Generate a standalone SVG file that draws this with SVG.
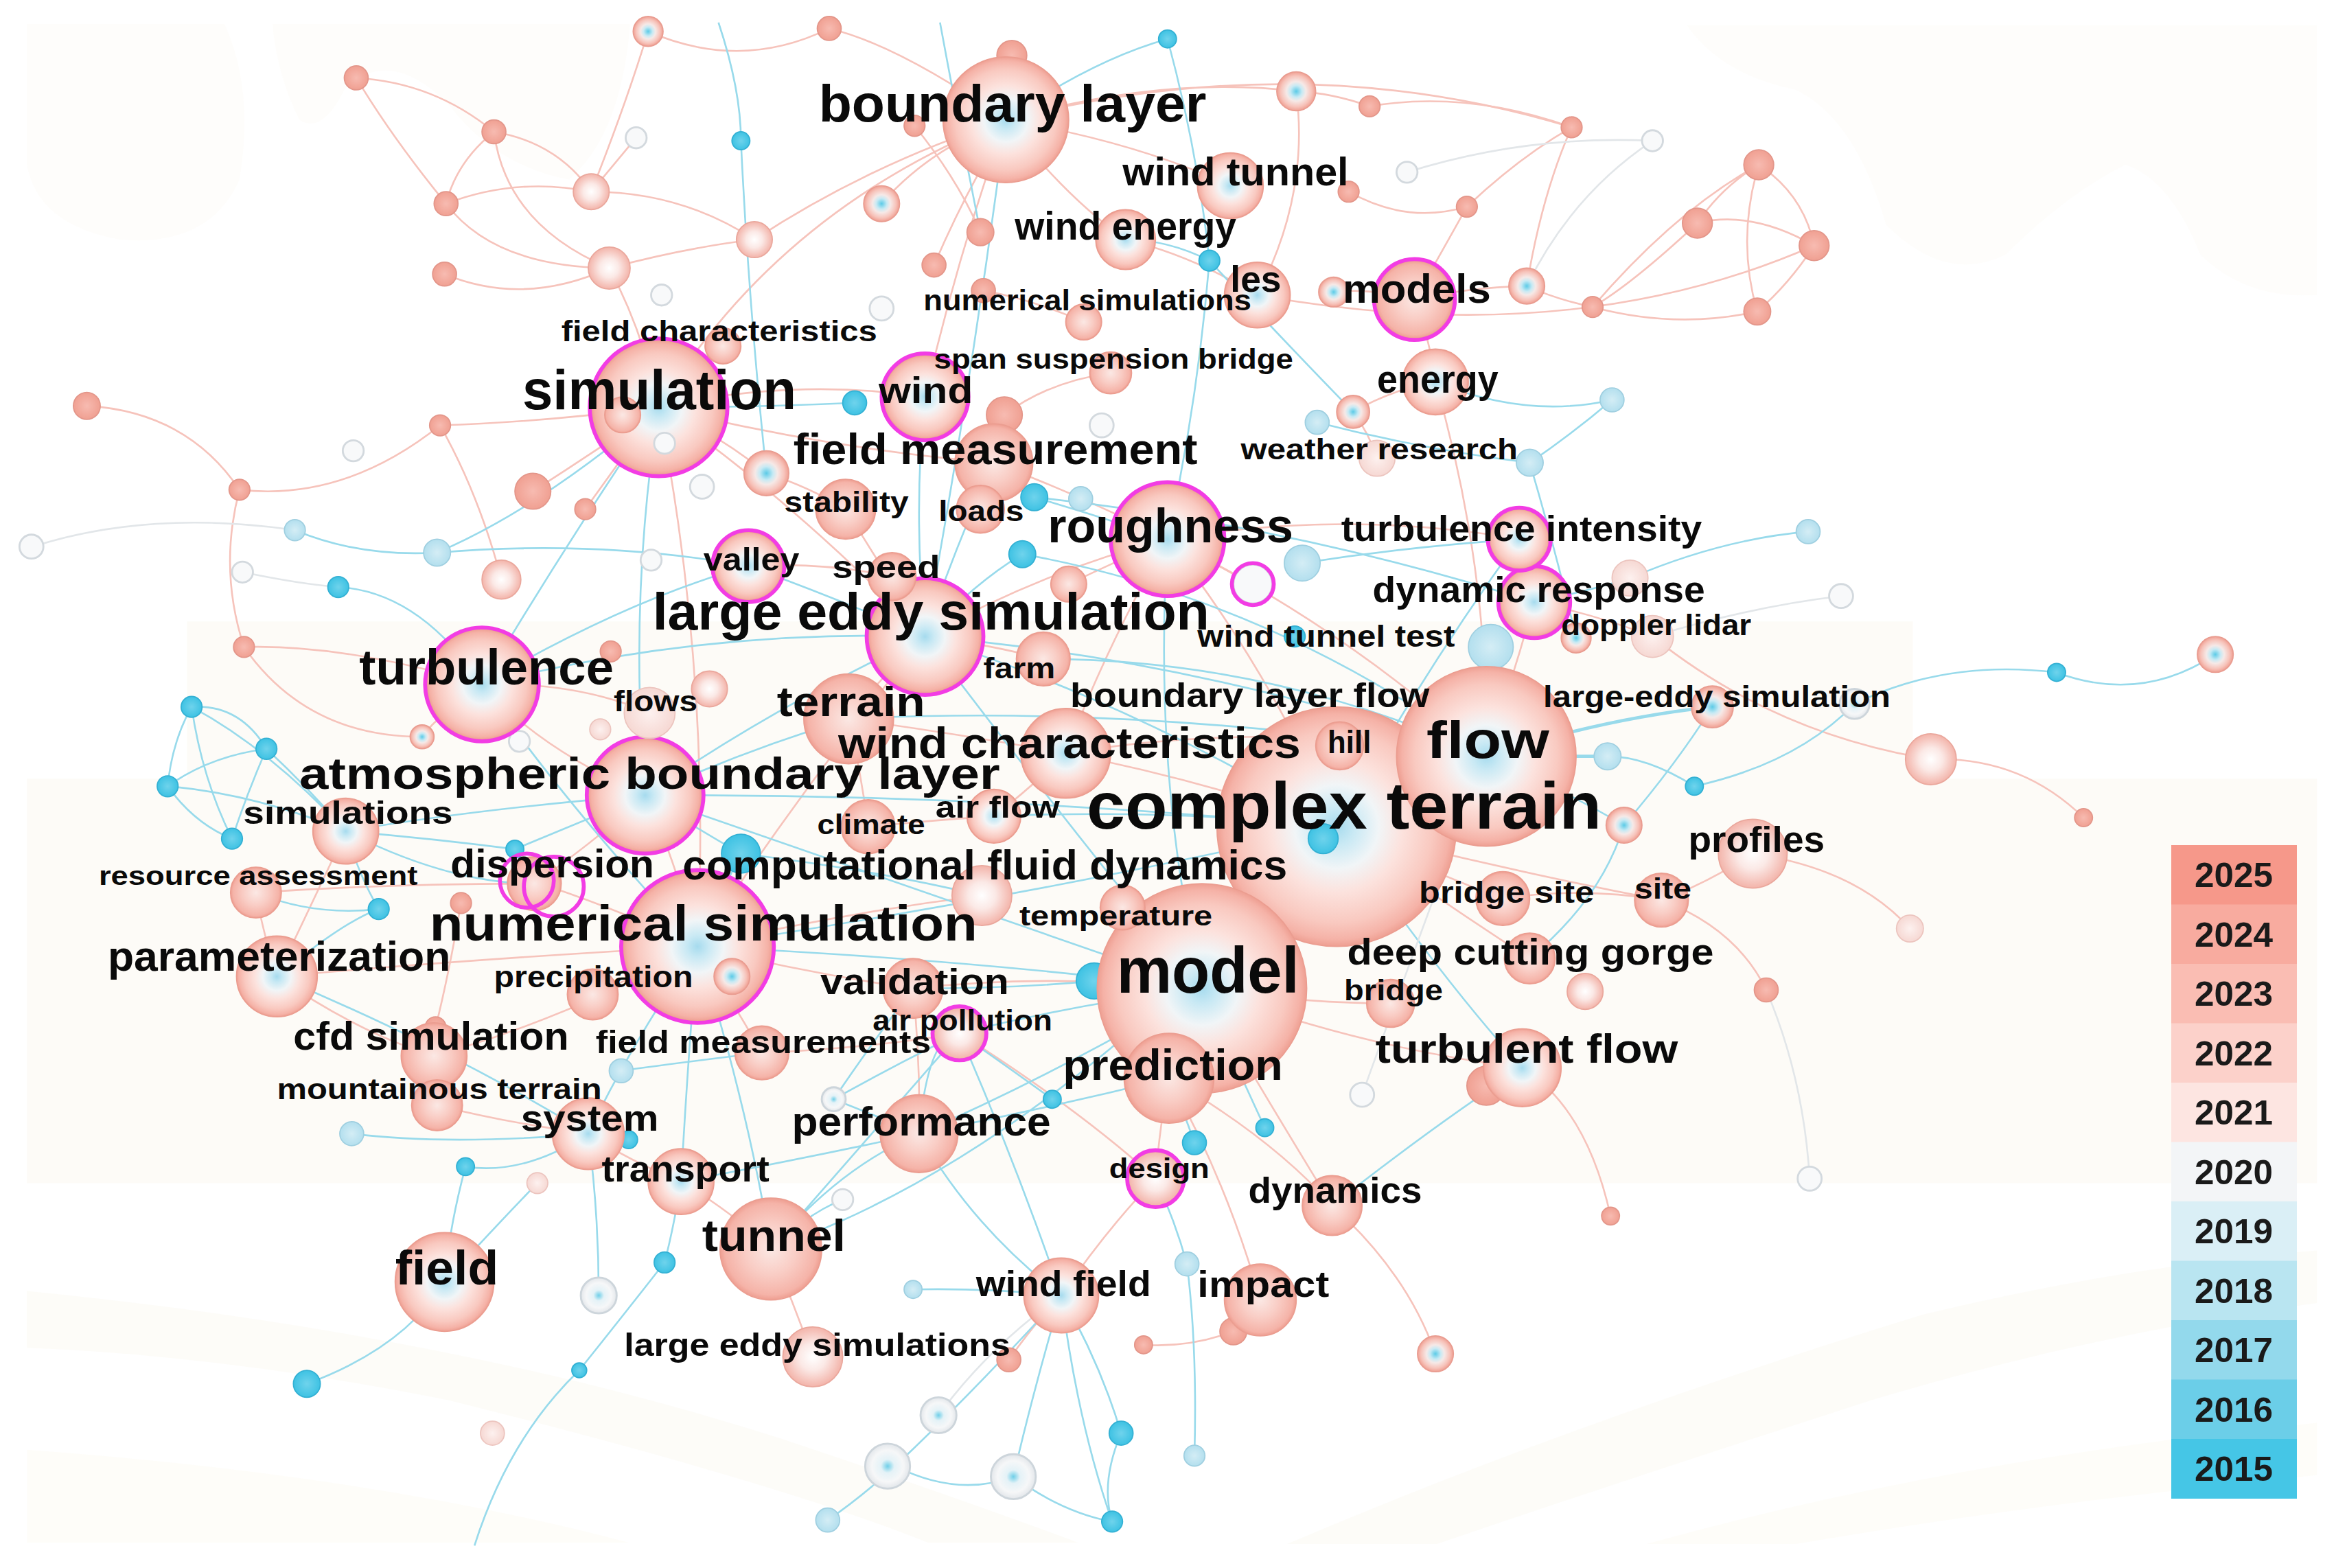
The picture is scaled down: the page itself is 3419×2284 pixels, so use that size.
<svg xmlns="http://www.w3.org/2000/svg" width="3419" height="2284" viewBox="0 0 3419 2284">
<defs>
<style>
.p{fill:none;stroke:#f6c3bb;stroke-width:1.2}
.b{fill:none;stroke:#98daeb;stroke-width:1.2}
.g{fill:none;stroke:#e2e6e9;stroke-width:1.2}
.bt{fill:none;stroke:#98daeb;stroke-width:2.2}
.pt{fill:none;stroke:#f6c3bb;stroke-width:2}
.big{fill:url(#gBig);stroke:#eb9d90;stroke-width:.8}
.pk{fill:url(#gPk);stroke:#eb9d90;stroke-width:.8}
.sal{fill:url(#gSal);stroke:#e3968a;stroke-width:.8}
.pb{fill:url(#gPB);stroke:#e99c90;stroke-width:.8}
.pw{fill:url(#gPW);stroke:#eaa79c;stroke-width:.8}
.pale{fill:url(#gPale);stroke:#ecc4be;stroke-width:.8}
.wh{fill:#f8f9fa;stroke:#d3d9de;stroke-width:1.3}
.wb{fill:url(#gWB);stroke:#cdd5db;stroke-width:1.3}
.lb{fill:url(#gLB);stroke:#9fcfe0;stroke-width:.8}
.bl{fill:url(#gBl);stroke:#33b0d3;stroke-width:.8}
.mg{fill:none;stroke:#f23ce4;stroke-width:2.6}
.bgs{fill:#fcf9f1}
.l{font-family:"Liberation Sans",Arial,Helvetica,sans-serif;font-weight:700;fill:#0a0a0a}
.lg{font-family:"Liberation Sans",Arial,Helvetica,sans-serif;font-weight:700;fill:#1a1a1a;font-size:50px;text-anchor:middle}
</style>
<radialGradient id="gBig"><stop offset="0" stop-color="#a6dbee"/><stop offset=".15" stop-color="#c9e9f4"/><stop offset=".35" stop-color="#f1f5f7"/><stop offset=".55" stop-color="#fce2dd"/><stop offset=".8" stop-color="#f9c9c0"/><stop offset=".94" stop-color="#f5b2a7"/><stop offset="1" stop-color="#ee9f92"/></radialGradient>
<radialGradient id="gPk"><stop offset="0" stop-color="#fbe8e4"/><stop offset=".5" stop-color="#f9cdc5"/><stop offset=".9" stop-color="#f5b3a8"/><stop offset="1" stop-color="#ee9e91"/></radialGradient>
<radialGradient id="gSal"><stop offset="0" stop-color="#f7bbb1"/><stop offset="1" stop-color="#f0a092"/></radialGradient>
<radialGradient id="gPB"><stop offset="0" stop-color="#5ccbe7"/><stop offset=".3" stop-color="#c8eaf4"/><stop offset=".5" stop-color="#f6e9e7"/><stop offset=".8" stop-color="#f7c3ba"/><stop offset="1" stop-color="#ef9f92"/></radialGradient>
<radialGradient id="gPW"><stop offset="0" stop-color="#ffffff"/><stop offset=".45" stop-color="#fbe9e6"/><stop offset="1" stop-color="#f3b4aa"/></radialGradient>
<radialGradient id="gPale"><stop offset="0" stop-color="#fdf1ef"/><stop offset="1" stop-color="#f6d8d3"/></radialGradient>
<radialGradient id="gLB"><stop offset="0" stop-color="#d4edf5"/><stop offset="1" stop-color="#b3dfee"/></radialGradient>
<radialGradient id="gBl"><stop offset="0" stop-color="#6fd3ec"/><stop offset="1" stop-color="#3ec2e3"/></radialGradient>
<radialGradient id="gWB"><stop offset="0" stop-color="#6fcfe8"/><stop offset=".3" stop-color="#e4f2f7"/><stop offset=".7" stop-color="#f6f7f8"/><stop offset="1" stop-color="#e2e6ea"/></radialGradient>
</defs>
<rect width="3419" height="2284" fill="#ffffff"/>
<g transform="scale(2.18048 2.18147)">
<g id="background">
<path class="bgs" d="M18 16H150Q170 60 160 120Q140 165 80 160Q25 150 18 110Z" opacity=".3"/>
<path class="bgs" d="M182 16H421Q415 90 380 120Q330 110 300 70Q260 30 230 60Q215 90 200 80Q185 50 182 16Z" opacity=".3"/>
<path class="bgs" d="M1127 17H1548V197Q1500 200 1470 170Q1450 120 1420 110Q1380 130 1340 170Q1300 190 1260 150Q1240 80 1200 60Q1150 50 1127 17Z" opacity=".3"/>
<rect class="bgs" x="125" y="415" width="1153" height="105" opacity=".6"/>
<rect class="bgs" x="18" y="520" width="1530" height="270" opacity=".6"/>
<path class="bgs" d="M18 862Q300 890 520 960Q640 1000 720 1030H620Q520 990 300 935Q150 905 18 900Z" opacity=".5"/>
<path class="bgs" d="M18 968Q250 985 420 1030H18Z" opacity=".4"/>
<path class="bgs" d="M860 1031Q1050 950 1284 878Q1420 845 1548 835V870Q1400 890 1250 935Q1080 990 960 1031Z" opacity=".5"/>
<path class="bgs" d="M1100 1031Q1300 975 1548 950V985Q1350 1005 1200 1031Z" opacity=".4"/>
</g>
<g id="connectors">
<path class="p" d="M238 52Q290 55 330 88M238 52Q262 92 298 136M330 88Q305 108 298 136M330 88Q372 95 395 128M298 136Q345 118 395 128M330 88Q338 150 407 179M298 136Q330 178 407 179M297 183Q350 205 407 179M395 128Q410 110 425 92M407 179Q430 222 440 272M407 179Q460 165 504 160M395 128Q455 128 504 160M433 21Q418 70 395 128M433 21Q495 48 554 19M58 271Q125 275 160 327M160 327Q230 335 294 284M294 284Q360 282 440 272M294 284Q320 330 335 387M160 327Q146 380 163 432M163 432Q205 492 282 492M356 328Q400 300 440 272M391 340Q420 300 440 272"/>
<path class="p" d="M440 272Q525 330 618 425M440 272Q475 450 466 632M440 272Q530 252 618 265M440 272Q555 300 664 309M440 272Q520 140 672 80M440 272Q480 290 512 316M440 272Q465 240 483 231M672 80Q600 30 554 19M672 80Q640 170 618 265M672 80Q620 100 589 136M672 80Q580 110 504 160M672 80Q760 95 822 124M672 80Q780 50 866 61M672 80Q710 130 752 160M672 80Q870 30 1050 85M611 84Q640 120 655 155M657 110Q640 140 624 177M657 194Q690 200 724 215"/>
<path class="p" d="M866 61Q890 62 915 71M866 61Q875 130 840 197M915 71Q980 60 1050 85M901 128Q940 150 980 138M980 138Q1015 105 1050 85M980 138Q965 165 945 200M1050 85Q1030 130 1020 191M1175 110Q1150 125 1134 149M1175 110Q1205 130 1212 164M1134 149Q1170 140 1212 164M1175 110Q1160 160 1174 208M1134 149Q1090 190 1064 205M1212 164Q1195 190 1174 208M1064 205Q1120 220 1174 208M1064 205Q1120 140 1175 110M1020 191Q1040 200 1064 205M1020 191Q980 192 945 200M840 197Q1050 235 1212 164M945 200Q955 225 959 255M891 195Q915 192 945 200M752 160Q795 170 840 197M959 255Q930 260 904 275M959 255Q995 380 993 505M904 275Q915 290 920 306M742 249Q700 255 671 277"/>
<path class="p" d="M1025 402Q1065 410 1104 425M1104 425Q1185 490 1290 507M1290 507Q1350 505 1392 546M1171 570Q1240 580 1276 620M1110 601Q1160 620 1180 661M1110 601Q1055 592 1004 600M1110 601Q1000 580 893 552M1017 713Q1060 740 1076 812M1015 360Q900 340 780 360M1025 402Q1010 455 993 505M1171 570Q1140 590 1110 601"/>
<path class="p" d="M618 425Q700 380 780 360M618 425Q540 520 466 632M618 425Q590 450 567 480M618 425Q660 430 697 440M618 425Q590 380 565 340M780 360Q850 450 893 552M780 360Q900 420 993 505M780 360Q720 330 664 309M780 360Q810 375 837 390M780 360Q740 430 712 503M780 360Q745 375 714 390M893 552Q840 600 803 660M893 552Q940 520 993 505M893 552Q800 520 712 503M893 552Q950 580 1004 600M893 552Q960 600 1022 640M893 552Q830 640 781 720M893 552Q895 525 895 498"/>
<path class="p" d="M803 660Q790 690 781 720M803 660Q700 650 610 660M803 660Q775 630 750 606M803 660Q870 670 929 670M803 660Q910 700 1017 713M803 660Q850 740 890 805M466 632Q450 570 431 531M466 632Q320 640 185 652M466 632Q420 610 367 592M466 632Q430 650 396 664M466 632Q540 650 610 660M466 632Q490 670 509 703M466 632Q380 680 290 705M466 632Q560 610 656 598M431 531Q360 500 322 457M431 531Q400 560 357 590M322 457Q290 480 282 492M322 457Q385 455 434 476M322 457Q230 430 163 432M185 652Q210 600 231 555M185 652Q175 620 171 596M185 652Q240 690 290 705"/>
<path class="p" d="M393 757Q420 775 455 789M393 757Q340 750 292 738M455 789Q490 810 515 834M515 834Q530 870 543 906M614 757Q615 710 610 660M641 690Q580 700 509 703M641 690Q720 740 772 787M709 865Q740 820 772 787M709 865Q690 885 674 908M842 868Q830 880 824 889M824 889Q795 900 764 898M842 868Q820 790 781 720M890 805Q850 760 781 720M890 805Q940 850 959 904M772 787Q775 750 781 720M567 480Q640 490 712 503M567 480Q575 515 580 552M712 503Q850 480 993 505M712 503Q690 525 664 545M565 340Q540 325 512 316M655 340Q660 320 664 309M596 385Q550 375 500 378M580 552Q620 548 664 545M171 596Q260 590 357 590M308 603Q300 650 291 686M596 385Q610 405 618 425"/>
<path class="b" d="M628 15Q640 80 655 155M480 15Q495 60 495 94M495 94Q500 200 512 316M672 80Q730 40 780 26M780 26Q800 100 808 174M672 80Q650 250 618 425M808 174Q780 160 752 160M808 174Q800 270 780 360M808 174Q860 230 904 275M959 255Q1020 280 1077 267M1077 267Q1050 290 1022 309M880 282Q950 300 1022 309M1022 309Q1040 370 1053 426M1208 355Q1150 360 1089 386M1089 386Q1060 395 1025 402"/>
<path class="b" d="M1132 525Q1200 510 1239 470M1239 470Q1300 440 1374 449M1374 449Q1430 470 1480 437M1074 505Q1100 505 1132 525M1085 551Q1070 600 1022 640M1085 551Q1040 525 993 505M1015 360Q950 450 893 552M870 376Q940 365 1015 360M996 432Q995 470 993 505M1042 520Q1020 515 993 505M1144 472Q1120 510 1085 551"/>
<path class="bt" d="M993 505Q1070 480 1144 472M993 505Q1035 505 1074 505"/>
<path class="b" d="M440 272Q420 400 431 531M440 272Q380 360 322 457M440 272Q505 272 571 269M440 272Q360 340 292 369M197 354Q240 372 292 369M292 369Q400 360 500 378M226 392Q280 395 322 457M618 425Q760 470 893 552M618 425Q720 560 803 660M618 425Q520 470 431 531M618 425Q470 420 322 457M618 425Q560 400 500 378M618 425Q640 360 664 309M618 425Q610 340 618 265M618 425Q650 390 683 370M618 425Q800 440 993 505M780 360Q770 520 803 660M780 360Q735 345 691 332"/>
<path class="b" d="M893 552Q680 600 466 632M893 552Q660 530 431 531M893 552Q960 650 1017 713M893 552Q915 570 933 578M803 660Q640 640 466 632M803 660Q720 670 641 690M803 660Q700 720 614 757M803 660Q765 655 731 655M803 660Q825 710 845 753M803 660Q600 590 431 531M466 632Q380 540 322 457M466 632Q420 700 393 757M466 632Q500 740 515 834M466 632Q480 600 495 570M431 531Q320 540 231 555M431 531Q460 550 495 570M431 531Q500 500 567 480M431 531Q385 550 344 567M322 457Q420 400 500 378"/>
<path class="b" d="M231 555Q180 500 128 472M231 555Q170 530 112 525M231 555Q205 525 178 500M128 472Q160 470 178 500M128 472Q115 495 112 525M128 472Q135 520 155 560M112 525Q130 550 155 560M178 500Q140 505 112 525M178 500Q165 530 155 560M231 555Q240 585 253 607M171 596Q210 612 253 607M344 567Q290 560 231 555M185 652Q230 615 253 607M185 652Q300 700 393 757M393 757Q300 765 235 757M393 757Q350 785 311 779M311 779Q300 820 297 856M359 790Q330 820 297 856M297 856Q270 900 205 924"/>
<path class="b" d="M455 789Q450 820 444 843M444 843Q415 880 387 915M387 915Q340 960 317 1032M455 789Q530 775 614 757M455 789Q460 700 466 632M393 757Q400 810 400 865M515 834Q560 780 614 757M515 834Q580 760 641 690M515 834Q700 770 893 552M515 834Q540 810 563 801M614 757Q620 690 641 690M614 757Q650 820 709 865M614 757Q585 745 557 734M614 757Q700 740 781 720M641 690Q680 780 709 865M641 690Q670 710 703 734M641 690Q600 710 557 734"/>
<path class="b" d="M709 865Q735 910 749 957M709 865Q720 950 743 1016M709 865Q690 930 677 986M709 865Q650 930 598 979M709 865Q660 860 610 861M749 957Q735 990 743 1016M598 979Q640 1000 677 986M677 986Q710 1010 743 1016M598 979Q575 1000 553 1015M772 787Q785 815 793 844M798 763Q790 740 781 720M781 720Q770 700 731 655M1017 713Q960 750 890 805M793 844Q800 900 798 972"/>
<path class="b" d="M683 370Q850 400 993 505M691 332Q860 350 1025 402M697 440Q850 440 993 505M567 480Q760 470 993 505M495 570Q580 580 656 598M731 655Q680 660 610 660M415 715Q450 710 509 703M557 734Q580 700 610 660M664 545Q780 540 893 552M231 555Q300 590 357 590"/>
<path class="g" d="M22 365Q100 340 197 354M940 115Q1020 90 1104 94M1104 94Q1050 130 1020 191M1230 398Q1170 405 1104 425M910 731Q950 620 993 505M1180 661Q1205 720 1209 787M162 382Q200 390 226 392M627 945Q660 900 709 865"/>
</g>
<g id="minor-nodes">
<g id="m1"><circle class="pb" cx="433" cy="21" r="10"/></g>
<g id="m2"><circle class="sal" cx="238" cy="52" r="8"/></g>
<g id="m3"><circle class="sal" cx="330" cy="88" r="8"/></g>
<g id="m4"><circle class="wh" cx="425" cy="92" r="7"/></g>
<g id="m5"><circle class="sal" cx="298" cy="136" r="8"/></g>
<g id="m6"><circle class="pw" cx="395" cy="128" r="12"/></g>
<g id="m7"><circle class="sal" cx="297" cy="183" r="8"/></g>
<g id="m8"><circle class="pw" cx="407" cy="179" r="14"/></g>
<g id="m9"><circle class="wh" cx="442" cy="197" r="7"/></g>
<g id="m10"><circle class="pw" cx="504" cy="160" r="12"/></g>
<g id="m11"><circle class="bl" cx="495" cy="94" r="6"/></g>
<g id="m12"><circle class="sal" cx="554" cy="19" r="8"/></g>
<g id="m13"><circle class="sal" cx="676" cy="37" r="10"/></g>
<g id="m14"><circle class="bl" cx="780" cy="26" r="6"/></g>
<g id="m15"><circle class="pb" cx="866" cy="61" r="13"/></g>
<g id="m16"><circle class="sal" cx="915" cy="71" r="7"/></g>
<g id="m17"><circle class="wh" cx="940" cy="115" r="7"/></g>
<g id="m18"><circle class="sal" cx="901" cy="128" r="7"/></g>
<g id="m19"><circle class="sal" cx="980" cy="138" r="7"/></g>
<g id="m20"><circle class="sal" cx="1050" cy="85" r="7"/></g>
<g id="m21"><circle class="wh" cx="1104" cy="94" r="7"/></g>
<g id="m22"><circle class="sal" cx="1175" cy="110" r="10"/></g>
<g id="m23"><circle class="sal" cx="1134" cy="149" r="10"/></g>
<g id="m24"><circle class="sal" cx="1212" cy="164" r="10"/></g>
<g id="m25"><circle class="pb" cx="1020" cy="191" r="12"/></g>
<g id="m26"><circle class="sal" cx="1064" cy="205" r="7"/></g>
<g id="m27"><circle class="sal" cx="1174" cy="208" r="9"/></g>
<g id="m28"><circle class="pb" cx="589" cy="136" r="12"/></g>
<g id="m29"><circle class="sal" cx="655" cy="155" r="9"/></g>
<g id="m30"><circle class="sal" cx="611" cy="84" r="7"/></g>
<g id="m31"><circle class="sal" cx="657" cy="110" r="8"/></g>
<g id="m32"><circle class="sal" cx="624" cy="177" r="8"/></g>
<g id="m33"><circle class="sal" cx="657" cy="194" r="8"/></g>
<g id="m34"><circle class="wh" cx="589" cy="206" r="8"/></g>
<g id="m35"><circle class="bl" cx="808" cy="174" r="7"/></g>
<g id="m36"><circle class="pb" cx="891" cy="195" r="10"/></g>
<g id="m37"><circle class="bl" cx="571" cy="269" r="8"/></g>
<g id="m38"><circle class="sal" cx="671" cy="277" r="12"/></g>
<g id="m39"><circle class="wh" cx="736" cy="284" r="8"/></g>
<g id="m40"><circle class="pb" cx="904" cy="275" r="11"/></g>
<g id="m41"><circle class="lb" cx="880" cy="282" r="8"/></g>
<g id="m42"><circle class="lb" cx="1077" cy="267" r="8"/></g>
<g id="m43"><circle class="lb" cx="1022" cy="309" r="9"/></g>
<g id="m44"><circle class="bl" cx="691" cy="332" r="9"/></g>
<g id="m45"><circle class="lb" cx="722" cy="333" r="8"/></g>
<g id="m46"><circle class="pb" cx="512" cy="316" r="15"/></g>
<g id="m47"><circle class="wh" cx="469" cy="325" r="8"/></g>
<g id="m48"><circle class="sal" cx="58" cy="271" r="9"/></g>
<g id="m49"><circle class="sal" cx="160" cy="327" r="7"/></g>
<g id="m50"><circle class="wh" cx="236" cy="301" r="7"/></g>
<g id="m51"><circle class="sal" cx="294" cy="284" r="7"/></g>
<g id="m52"><circle class="sal" cx="356" cy="328" r="12"/></g>
<g id="m53"><circle class="sal" cx="391" cy="340" r="7"/></g>
<g id="m54"><circle class="pw" cx="335" cy="387" r="13"/></g>
<g id="m55"><circle class="lb" cx="292" cy="369" r="9"/></g>
<g id="m56"><circle class="lb" cx="197" cy="354" r="7"/></g>
<g id="m57"><circle class="bl" cx="226" cy="392" r="7"/></g>
<g id="m58"><circle class="wh" cx="162" cy="382" r="7"/></g>
<g id="m59"><circle class="wh" cx="21" cy="365" r="8"/></g>
<g id="m60"><circle class="sal" cx="163" cy="432" r="7"/></g>
<g id="m61"><circle class="pb" cx="282" cy="492" r="8"/></g>
<g id="m62"><circle class="wh" cx="347" cy="495" r="7"/></g>
<g id="m63"><circle class="sal" cx="408" cy="435" r="7"/></g>
<g id="m64"><circle class="pale" cx="401" cy="487" r="7"/></g>
<g id="m65"><circle class="wh" cx="435" cy="374" r="7"/></g>
<g id="m66"><circle class="pw" cx="474" cy="460" r="12"/></g>
<g id="m67"><circle class="bl" cx="128" cy="472" r="7"/></g>
<g id="m68"><circle class="bl" cx="178" cy="500" r="7"/></g>
<g id="m69"><circle class="bl" cx="112" cy="525" r="7"/></g>
<g id="m70"><circle class="bl" cx="155" cy="560" r="7"/></g>
<g id="m71"><circle class="bl" cx="253" cy="607" r="7"/></g>
<g id="m72"><circle class="bl" cx="344" cy="567" r="6"/></g>
<g id="m73"><circle class="bl" cx="495" cy="570" r="13"/></g>
<g id="m74"><circle class="sal" cx="308" cy="603" r="7"/></g>
<g id="m75"><circle class="sal" cx="291" cy="686" r="7"/></g>
<g id="m76"><circle class="lb" cx="415" cy="715" r="8"/></g>
<g id="m77"><circle class="wb" cx="557" cy="734" r="8"/></g>
<g id="m78"><circle class="lb" cx="235" cy="757" r="8"/></g>
<g id="m79"><circle class="bl" cx="420" cy="761" r="6"/></g>
<g id="m80"><circle class="bl" cx="311" cy="779" r="6"/></g>
<g id="m81"><circle class="pale" cx="359" cy="790" r="7"/></g>
<g id="m82"><circle class="wh" cx="563" cy="801" r="7"/></g>
<g id="m83"><circle class="bl" cx="444" cy="843" r="7"/></g>
<g id="m84"><circle class="wb" cx="400" cy="865" r="12"/></g>
<g id="m85"><circle class="bl" cx="205" cy="924" r="9"/></g>
<g id="m86"><circle class="bl" cx="387" cy="915" r="5"/></g>
<g id="m87"><circle class="pale" cx="329" cy="957" r="8"/></g>
<g id="m88"><circle class="wb" cx="627" cy="945" r="12"/></g>
<g id="m89"><circle class="wb" cx="593" cy="979" r="15"/></g>
<g id="m90"><circle class="wb" cx="677" cy="986" r="15"/></g>
<g id="m91"><circle class="bl" cx="749" cy="957" r="8"/></g>
<g id="m92"><circle class="bl" cx="743" cy="1016" r="7"/></g>
<g id="m93"><circle class="lb" cx="798" cy="972" r="7"/></g>
<g id="m94"><circle class="lb" cx="553" cy="1015" r="8"/></g>
<g id="m95"><circle class="lb" cx="610" cy="861" r="6"/></g>
<g id="m96"><circle class="sal" cx="674" cy="908" r="8"/></g>
<g id="m97"><circle class="sal" cx="764" cy="898" r="6"/></g>
<g id="m98"><circle class="sal" cx="824" cy="889" r="9"/></g>
<g id="m99"><circle class="lb" cx="793" cy="844" r="8"/></g>
<g id="m100"><circle class="bl" cx="798" cy="763" r="8"/></g>
<g id="m101"><circle class="bl" cx="845" cy="753" r="6"/></g>
<g id="m102"><circle class="bl" cx="703" cy="734" r="6"/></g>
<g id="m103"><circle class="wh" cx="910" cy="731" r="8"/></g>
<g id="m104"><circle class="sal" cx="993" cy="725" r="13"/></g>
<g id="m105"><circle class="pb" cx="959" cy="904" r="12"/></g>
<g id="m106"><circle class="sal" cx="1076" cy="812" r="6"/></g>
<g id="m107"><circle class="wh" cx="1209" cy="787" r="8"/></g>
<g id="m108"><circle class="sal" cx="1180" cy="661" r="8"/></g>
<g id="m109"><circle class="pale" cx="1276" cy="620" r="9"/></g>
<g id="m110"><circle class="pb" cx="1085" cy="551" r="12"/></g>
<g id="m111"><circle class="bl" cx="1132" cy="525" r="6"/></g>
<g id="m112"><circle class="lb" cx="1074" cy="505" r="9"/></g>
<g id="m113"><circle class="pw" cx="1290" cy="507" r="17"/></g>
<g id="m114"><circle class="sal" cx="1392" cy="546" r="6"/></g>
<g id="m115"><circle class="bl" cx="1374" cy="449" r="6"/></g>
<g id="m116"><circle class="pb" cx="1480" cy="437" r="12"/></g>
<g id="m117"><circle class="wb" cx="1239" cy="470" r="10"/></g>
<g id="m118"><circle class="pb" cx="1053" cy="426" r="10"/></g>
<g id="m119"><circle class="pale" cx="1089" cy="386" r="12"/></g>
<g id="m120"><circle class="lb" cx="1208" cy="355" r="8"/></g>
<g id="m121"><circle class="wh" cx="1230" cy="398" r="8"/></g>
<g id="m122"><circle class="lb" cx="996" cy="432" r="15"/></g>
<g id="m123"><circle class="lb" cx="870" cy="376" r="12"/></g>
<g id="m124"><circle class="bl" cx="683" cy="370" r="9"/></g>
<g id="m125"><circle class="pk" cx="714" cy="390" r="12"/></g>
<g id="m126"><circle class="bl" cx="731" cy="655" r="12"/></g>
<g id="m127"><circle class="wh" cx="837" cy="390" r="13"/><circle class="mg" cx="837" cy="390" r="14"/></g>
<g id="m128"><circle class="pw" cx="1059" cy="662" r="12"/></g>
<g id="m129"><circle class="wh" cx="933" cy="578" r="8"/></g>
<g id="m130"><circle class="bl" cx="1042" cy="520" r="6"/></g>
<g id="m131"><circle class="bl" cx="865" cy="425" r="7"/></g>
</g>
<g id="nodes">
<g id="n-complex-terrain"><circle class="big" cx="893" cy="552" r="80"/><circle class="bl" cx="884" cy="560" r="10"/></g>
<g id="n-model"><circle class="big" cx="803" cy="660" r="70"/></g>
<g id="n-flow"><circle class="big" cx="993" cy="505" r="60"/></g>
<g id="n-numerical-simulation"><circle class="big" cx="466" cy="632" r="50"/><circle class="pb" cx="489" cy="652" r="12"/><circle class="mg" cx="466" cy="632" r="51"/></g>
<g id="n-simulation"><circle class="big" cx="440" cy="272" r="45"/><circle class="pk" cx="416" cy="277" r="12"/><circle class="wh" cx="444" cy="296" r="7"/><circle class="mg" cx="440" cy="272" r="46"/></g>
<g id="n-boundary-layer"><circle class="big" cx="672" cy="80" r="42"/></g>
<g id="n-large-eddy-simulation"><circle class="big" cx="618" cy="425" r="38"/><circle class="mg" cx="618" cy="425" r="39"/></g>
<g id="n-atmospheric-boundary-layer"><circle class="big" cx="431" cy="531" r="38"/><circle class="mg" cx="431" cy="531" r="39"/></g>
<g id="n-roughness"><circle class="big" cx="780" cy="360" r="37"/><circle class="mg" cx="780" cy="360" r="38" stroke-width="3.4"/></g>
<g id="n-turbulence"><circle class="big" cx="322" cy="457" r="37"/><circle class="mg" cx="322" cy="457" r="38"/></g>
<g id="n-tunnel"><circle class="pk" cx="515" cy="834" r="34"/></g>
<g id="n-field"><circle class="big" cx="297" cy="856" r="33"/></g>
<g id="n-wind-characteristics"><circle class="big" cx="712" cy="503" r="30"/></g>
<g id="n-terrain"><circle class="pk" cx="567" cy="480" r="30"/></g>
<g id="n-prediction"><circle class="pk" cx="781" cy="720" r="30"/></g>
<g id="n-parameterization"><circle class="big" cx="185" cy="652" r="27"/></g>
<g id="n-wind"><circle class="big" cx="618" cy="265" r="28"/><circle class="mg" cx="618" cy="265" r="29"/></g>
<g id="n-field-measurement"><circle class="pk" cx="664" cy="309" r="26"/></g>
<g id="n-performance"><circle class="pk" cx="614" cy="757" r="26"/></g>
<g id="n-turbulent-flow"><circle class="big" cx="1017" cy="713" r="26"/></g>
<g id="n-models"><circle class="pk" cx="945" cy="200" r="26"/><circle class="mg" cx="945" cy="200" r="27"/></g>
<g id="n-impact"><circle class="pk" cx="842" cy="868" r="24"/></g>
<g id="n-system"><circle class="big" cx="393" cy="757" r="24"/></g>
<g id="n-wind-field"><circle class="big" cx="709" cy="865" r="25"/></g>
<g id="n-profiles"><circle class="pw" cx="1171" cy="570" r="23"/></g>
<g id="n-valley"><circle class="big" cx="500" cy="378" r="23"/><circle class="mg" cx="500" cy="378" r="24"/></g>
<g id="n-dynamic-response"><circle class="big" cx="1025" cy="402" r="23"/><circle class="mg" cx="1025" cy="402" r="24"/></g>
<g id="n-transport"><circle class="big" cx="455" cy="789" r="22"/></g>
<g id="n-turbulence-intensity"><circle class="big" cx="1015" cy="360" r="20"/><circle class="mg" cx="1015" cy="360" r="21"/></g>
<g id="n-wind-tunnel"><circle class="big" cx="822" cy="124" r="22"/></g>
<g id="n-les"><circle class="big" cx="840" cy="197" r="22"/></g>
<g id="n-energy"><circle class="big" cx="959" cy="255" r="22"/></g>
<g id="n-wind-energy"><circle class="big" cx="752" cy="160" r="20"/></g>
<g id="n-large-eddy-simulations"><circle class="pw" cx="543" cy="906" r="20"/></g>
<g id="n-simulations"><circle class="big" cx="231" cy="555" r="22"/></g>
<g id="n-stability"><circle class="pk" cx="565" cy="340" r="20"/></g>
<g id="n-validation"><circle class="pk" cx="610" cy="660" r="20"/></g>
<g id="n-computational-fluid-dynamics"><circle class="pw" cx="656" cy="598" r="20"/></g>
<g id="n-climate"><circle class="pk" cx="580" cy="552" r="18"/></g>
<g id="n-air-flow"><circle class="big" cx="664" cy="545" r="18"/></g>
<g id="n-bridge-site"><circle class="pk" cx="1004" cy="600" r="18"/></g>
<g id="n-site"><circle class="pk" cx="1110" cy="601" r="18"/></g>
<g id="n-design"><circle class="pw" cx="772" cy="787" r="18"/><circle class="mg" cx="772" cy="787" r="19"/></g>
<g id="n-dynamics"><circle class="pk" cx="890" cy="805" r="20"/></g>
<g id="n-air-pollution"><circle class="pw" cx="641" cy="690" r="17"/><circle class="mg" cx="641" cy="690" r="18"/></g>
<g id="n-deep-cutting-gorge"><circle class="pk" cx="1022" cy="640" r="17"/></g>
<g id="n-dispersion"><circle class="pk" cx="357" cy="590" r="18"/><circle class="mg" cx="352" cy="588" r="18"/><circle class="mg" cx="370" cy="592" r="20"/></g>
<g id="n-farm"><circle class="pk" cx="697" cy="440" r="18"/></g>
<g id="n-loads"><circle class="pk" cx="655" cy="340" r="16"/></g>
<g id="n-speed"><circle class="pk" cx="596" cy="385" r="16"/></g>
<g id="n-bridge"><circle class="pk" cx="929" cy="670" r="16"/></g>
<g id="n-hill"><circle class="pk" cx="895" cy="498" r="16"/></g>
<g id="n-temperature"><circle class="pk" cx="750" cy="606" r="15"/></g>
<g id="n-field-measurements"><circle class="pk" cx="509" cy="703" r="18"/></g>
<g id="n-cfd-simulation"><circle class="pk" cx="290" cy="705" r="22"/></g>
<g id="n-mountainous-terrain"><circle class="pk" cx="292" cy="738" r="17"/></g>
<g id="n-precipitation"><circle class="pk" cx="396" cy="664" r="17"/></g>
<g id="n-resource-assessment"><circle class="pk" cx="171" cy="596" r="17"/></g>
<g id="n-flows"><circle class="pale" cx="434" cy="476" r="17"/></g>
<g id="n-large-eddy-simulation-2"><circle class="pb" cx="1144" cy="472" r="14"/></g>
<g id="n-doppler-lidar"><circle class="pale" cx="1104" cy="425" r="14"/></g>
<g id="n-weather-research"><circle class="pale" cx="920" cy="306" r="12"/></g>
<g id="n-numerical-simulations"><circle class="pk" cx="724" cy="215" r="12"/></g>
<g id="n-span-suspension-bridge"><circle class="pk" cx="742" cy="249" r="14"/></g>
<g id="n-field-characteristics"><circle class="pk" cx="483" cy="231" r="12"/></g>
</g>
<g id="labels">
<text class="l" x="547" y="81" font-size="35" textLength="259" lengthAdjust="spacingAndGlyphs">boundary layer</text>
<text class="l" x="750" y="124" font-size="26" textLength="151" lengthAdjust="spacingAndGlyphs">wind tunnel</text>
<text class="l" x="678" y="160" font-size="26" textLength="148" lengthAdjust="spacingAndGlyphs">wind energy</text>
<text class="l" x="617" y="207" font-size="19.5" textLength="219" lengthAdjust="spacingAndGlyphs">numerical simulations</text>
<text class="l" x="822" y="195" font-size="25" textLength="34" lengthAdjust="spacingAndGlyphs">les</text>
<text class="l" x="897" y="202" font-size="27" textLength="99" lengthAdjust="spacingAndGlyphs">models</text>
<text class="l" x="375" y="228" font-size="19.5" textLength="211" lengthAdjust="spacingAndGlyphs">field characteristics</text>
<text class="l" x="349" y="273" font-size="37" textLength="183" lengthAdjust="spacingAndGlyphs">simulation</text>
<text class="l" x="587" y="269" font-size="25" textLength="63" lengthAdjust="spacingAndGlyphs">wind</text>
<text class="l" x="624" y="246" font-size="19" textLength="240" lengthAdjust="spacingAndGlyphs">span suspension bridge</text>
<text class="l" x="920" y="262" font-size="26" textLength="81" lengthAdjust="spacingAndGlyphs">energy</text>
<text class="l" x="530" y="310" font-size="29" textLength="270" lengthAdjust="spacingAndGlyphs">field measurement</text>
<text class="l" x="829" y="306.5" font-size="19.5" textLength="185" lengthAdjust="spacingAndGlyphs">weather research</text>
<text class="l" x="524" y="342" font-size="19.5" textLength="83" lengthAdjust="spacingAndGlyphs">stability</text>
<text class="l" x="627" y="348" font-size="19.5" textLength="57" lengthAdjust="spacingAndGlyphs">loads</text>
<text class="l" x="700" y="362" font-size="32" textLength="164" lengthAdjust="spacingAndGlyphs">roughness</text>
<text class="l" x="896" y="361" font-size="24" textLength="241" lengthAdjust="spacingAndGlyphs">turbulence intensity</text>
<text class="l" x="470" y="381" font-size="21.5" textLength="64" lengthAdjust="spacingAndGlyphs">valley</text>
<text class="l" x="556" y="386" font-size="21.5" textLength="72" lengthAdjust="spacingAndGlyphs">speed</text>
<text class="l" x="436" y="420.5" font-size="35" textLength="372" lengthAdjust="spacingAndGlyphs">large eddy simulation</text>
<text class="l" x="917" y="402" font-size="24" textLength="222" lengthAdjust="spacingAndGlyphs">dynamic response</text>
<text class="l" x="1043" y="424" font-size="19.5" textLength="127" lengthAdjust="spacingAndGlyphs">doppler lidar</text>
<text class="l" x="800" y="432" font-size="20.5" textLength="172" lengthAdjust="spacingAndGlyphs">wind tunnel test</text>
<text class="l" x="240" y="457" font-size="33" textLength="170" lengthAdjust="spacingAndGlyphs">turbulence</text>
<text class="l" x="657" y="453" font-size="19.5" textLength="48" lengthAdjust="spacingAndGlyphs">farm</text>
<text class="l" x="410" y="475" font-size="19.5" textLength="56" lengthAdjust="spacingAndGlyphs">flows</text>
<text class="l" x="519" y="478" font-size="28" textLength="99" lengthAdjust="spacingAndGlyphs">terrain</text>
<text class="l" x="715" y="472" font-size="23" textLength="240" lengthAdjust="spacingAndGlyphs">boundary layer flow</text>
<text class="l" x="953" y="506" font-size="35" textLength="82" lengthAdjust="spacingAndGlyphs">flow</text>
<text class="l" x="1031" y="472" font-size="20.5" textLength="232" lengthAdjust="spacingAndGlyphs">large-eddy simulation</text>
<text class="l" x="887" y="503" font-size="21.5" textLength="29" lengthAdjust="spacingAndGlyphs">hill</text>
<text class="l" x="560" y="506" font-size="28.5" textLength="309" lengthAdjust="spacingAndGlyphs">wind characteristics</text>
<text class="l" x="726" y="553.5" font-size="44" textLength="344" lengthAdjust="spacingAndGlyphs">complex terrain</text>
<text class="l" x="200" y="526.5" font-size="30" textLength="468" lengthAdjust="spacingAndGlyphs">atmospheric boundary layer</text>
<text class="l" x="162.5" y="550" font-size="21.5" textLength="140" lengthAdjust="spacingAndGlyphs">simulations</text>
<text class="l" x="546" y="557" font-size="18.5" textLength="72" lengthAdjust="spacingAndGlyphs">climate</text>
<text class="l" x="625" y="546" font-size="20.5" textLength="83" lengthAdjust="spacingAndGlyphs">air flow</text>
<text class="l" x="1128" y="569" font-size="24" textLength="91" lengthAdjust="spacingAndGlyphs">profiles</text>
<text class="l" x="66" y="590.7" font-size="18" textLength="213" lengthAdjust="spacingAndGlyphs">resource assessment</text>
<text class="l" x="301" y="586" font-size="26" textLength="136" lengthAdjust="spacingAndGlyphs">dispersion</text>
<text class="l" x="456" y="587" font-size="28" textLength="404" lengthAdjust="spacingAndGlyphs">computational fluid dynamics</text>
<text class="l" x="948" y="602.6" font-size="20.5" textLength="117" lengthAdjust="spacingAndGlyphs">bridge site</text>
<text class="l" x="1092" y="600" font-size="19.5" textLength="38" lengthAdjust="spacingAndGlyphs">site</text>
<text class="l" x="287" y="628" font-size="33" textLength="366" lengthAdjust="spacingAndGlyphs">numerical simulation</text>
<text class="l" x="681" y="618" font-size="18.5" textLength="129" lengthAdjust="spacingAndGlyphs">temperature</text>
<text class="l" x="72" y="648" font-size="28" textLength="229" lengthAdjust="spacingAndGlyphs">parameterization</text>
<text class="l" x="900" y="644" font-size="25" textLength="245" lengthAdjust="spacingAndGlyphs">deep cutting gorge</text>
<text class="l" x="746" y="663" font-size="43" textLength="122" lengthAdjust="spacingAndGlyphs">model</text>
<text class="l" x="330" y="659" font-size="20.5" textLength="133" lengthAdjust="spacingAndGlyphs">precipitation</text>
<text class="l" x="548" y="664" font-size="24" textLength="126" lengthAdjust="spacingAndGlyphs">validation</text>
<text class="l" x="898" y="668" font-size="19.5" textLength="66" lengthAdjust="spacingAndGlyphs">bridge</text>
<text class="l" x="196" y="701" font-size="26" textLength="184" lengthAdjust="spacingAndGlyphs">cfd simulation</text>
<text class="l" x="398" y="703" font-size="21.5" textLength="224" lengthAdjust="spacingAndGlyphs">field measurements</text>
<text class="l" x="583" y="688" font-size="19.5" textLength="120" lengthAdjust="spacingAndGlyphs">air pollution</text>
<text class="l" x="710" y="721" font-size="29" textLength="147" lengthAdjust="spacingAndGlyphs">prediction</text>
<text class="l" x="919" y="709.6" font-size="27" textLength="202" lengthAdjust="spacingAndGlyphs">turbulent flow</text>
<text class="l" x="185" y="734" font-size="19.5" textLength="217" lengthAdjust="spacingAndGlyphs">mountainous terrain</text>
<text class="l" x="348" y="755" font-size="25" textLength="92" lengthAdjust="spacingAndGlyphs">system</text>
<text class="l" x="529" y="758" font-size="27" textLength="173" lengthAdjust="spacingAndGlyphs">performance</text>
<text class="l" x="402" y="789" font-size="25" textLength="112" lengthAdjust="spacingAndGlyphs">transport</text>
<text class="l" x="741" y="786.5" font-size="18.5" textLength="67" lengthAdjust="spacingAndGlyphs">design</text>
<text class="l" x="834" y="803" font-size="24" textLength="116" lengthAdjust="spacingAndGlyphs">dynamics</text>
<text class="l" x="469" y="835" font-size="30" textLength="96" lengthAdjust="spacingAndGlyphs">tunnel</text>
<text class="l" x="264" y="857.6" font-size="32" textLength="69" lengthAdjust="spacingAndGlyphs">field</text>
<text class="l" x="652" y="865.6" font-size="24" textLength="117" lengthAdjust="spacingAndGlyphs">wind field</text>
<text class="l" x="800" y="866" font-size="25" textLength="88" lengthAdjust="spacingAndGlyphs">impact</text>
<text class="l" x="417" y="905.5" font-size="21.5" textLength="258" lengthAdjust="spacingAndGlyphs">large eddy simulations</text>
</g>
</g>
<g id="legend">
<rect x="3163" y="1231" width="183" height="87" fill="#f6988a"/>
<rect x="3163" y="1317.5" width="183" height="87" fill="#f8ab9f"/>
<rect x="3163" y="1404" width="183" height="87" fill="#fabdb3"/>
<rect x="3163" y="1490.5" width="183" height="87" fill="#fcd1ca"/>
<rect x="3163" y="1577" width="183" height="87" fill="#fde5e1"/>
<rect x="3163" y="1663.5" width="183" height="87" fill="#f3f5f7"/>
<rect x="3163" y="1750" width="183" height="87" fill="#daeff6"/>
<rect x="3163" y="1836.5" width="183" height="87" fill="#b9e5f1"/>
<rect x="3163" y="1923" width="183" height="87" fill="#93d9ec"/>
<rect x="3163" y="2009.5" width="183" height="87" fill="#6bcee8"/>
<rect x="3163" y="2096" width="183" height="87" fill="#45c6e6"/>
<text class="lg" x="3254" y="1292" textLength="114" lengthAdjust="spacingAndGlyphs">2025</text>
<text class="lg" x="3254" y="1378.5" textLength="114" lengthAdjust="spacingAndGlyphs">2024</text>
<text class="lg" x="3254" y="1465" textLength="114" lengthAdjust="spacingAndGlyphs">2023</text>
<text class="lg" x="3254" y="1551.5" textLength="114" lengthAdjust="spacingAndGlyphs">2022</text>
<text class="lg" x="3254" y="1638" textLength="114" lengthAdjust="spacingAndGlyphs">2021</text>
<text class="lg" x="3254" y="1724.5" textLength="114" lengthAdjust="spacingAndGlyphs">2020</text>
<text class="lg" x="3254" y="1811" textLength="114" lengthAdjust="spacingAndGlyphs">2019</text>
<text class="lg" x="3254" y="1897.5" textLength="114" lengthAdjust="spacingAndGlyphs">2018</text>
<text class="lg" x="3254" y="1984" textLength="114" lengthAdjust="spacingAndGlyphs">2017</text>
<text class="lg" x="3254" y="2070.5" textLength="114" lengthAdjust="spacingAndGlyphs">2016</text>
<text class="lg" x="3254" y="2157" textLength="114" lengthAdjust="spacingAndGlyphs">2015</text>
</g>
</svg>
